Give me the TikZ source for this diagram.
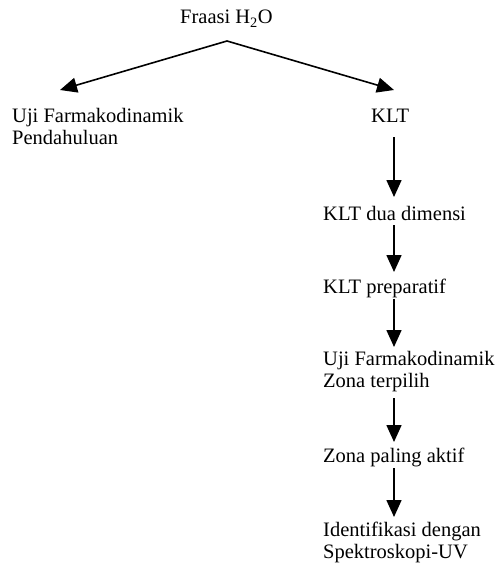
\documentclass[tikz,border=0pt]{standalone}
\usepackage{fontspec}
\setmainfont{Liberation Serif}
\usetikzlibrary{arrows.meta}
\tikzset{
  lbl/.style={anchor=base west, inner sep=0pt, align=left, font=\fontsize{20.5}{21.5}\selectfont},
  arr/.style={line width=1.6pt, -{Triangle[length=17pt,width=15pt]}}
}
\begin{document}
\begin{tikzpicture}[x=1pt,y=-1pt]
\useasboundingbox (0,0) rectangle (502,567);
\node[lbl] (top) at (180,24) {Fraasi H\textsubscript{2}O};
\node[lbl] (left) at (12,144) {Uji Farmakodinamik\\Pendahuluan};
\node[lbl] (klt) at (371,123) {KLT};
\node[lbl] (klt2) at (323,220) {KLT dua dimensi};
\node[lbl] (prep) at (323,293) {KLT preparatif};
\node[lbl] (uji2) at (323,387) {Uji Farmakodinamik\\Zona terpilih};
\node[lbl] (zona) at (323,462) {Zona paling aktif};
\node[lbl] (ident) at (323,558) {Identifikasi dengan\\Spektroskopi-UV};
\coordinate (apex) at (227,41);
\coordinate (ltip) at (60,90);
\coordinate (rtip) at (394,90);
\coordinate (s1) at (394,137); \coordinate (e1) at (394,197);
\coordinate (s2) at (394,225); \coordinate (e2) at (394,272);
\coordinate (s3) at (394,299); \coordinate (e3) at (394,347);
\coordinate (s4) at (394,398); \coordinate (e4) at (394,442);
\coordinate (s5) at (394,468); \coordinate (e5) at (394,517);
\draw[arr] (apex) -- (ltip);
\draw[arr] (apex) -- (rtip);
\draw[arr] (s1) -- (e1);
\draw[arr] (s2) -- (e2);
\draw[arr] (s3) -- (e3);
\draw[arr] (s4) -- (e4);
\draw[arr] (s5) -- (e5);
\end{tikzpicture}
\end{document}
